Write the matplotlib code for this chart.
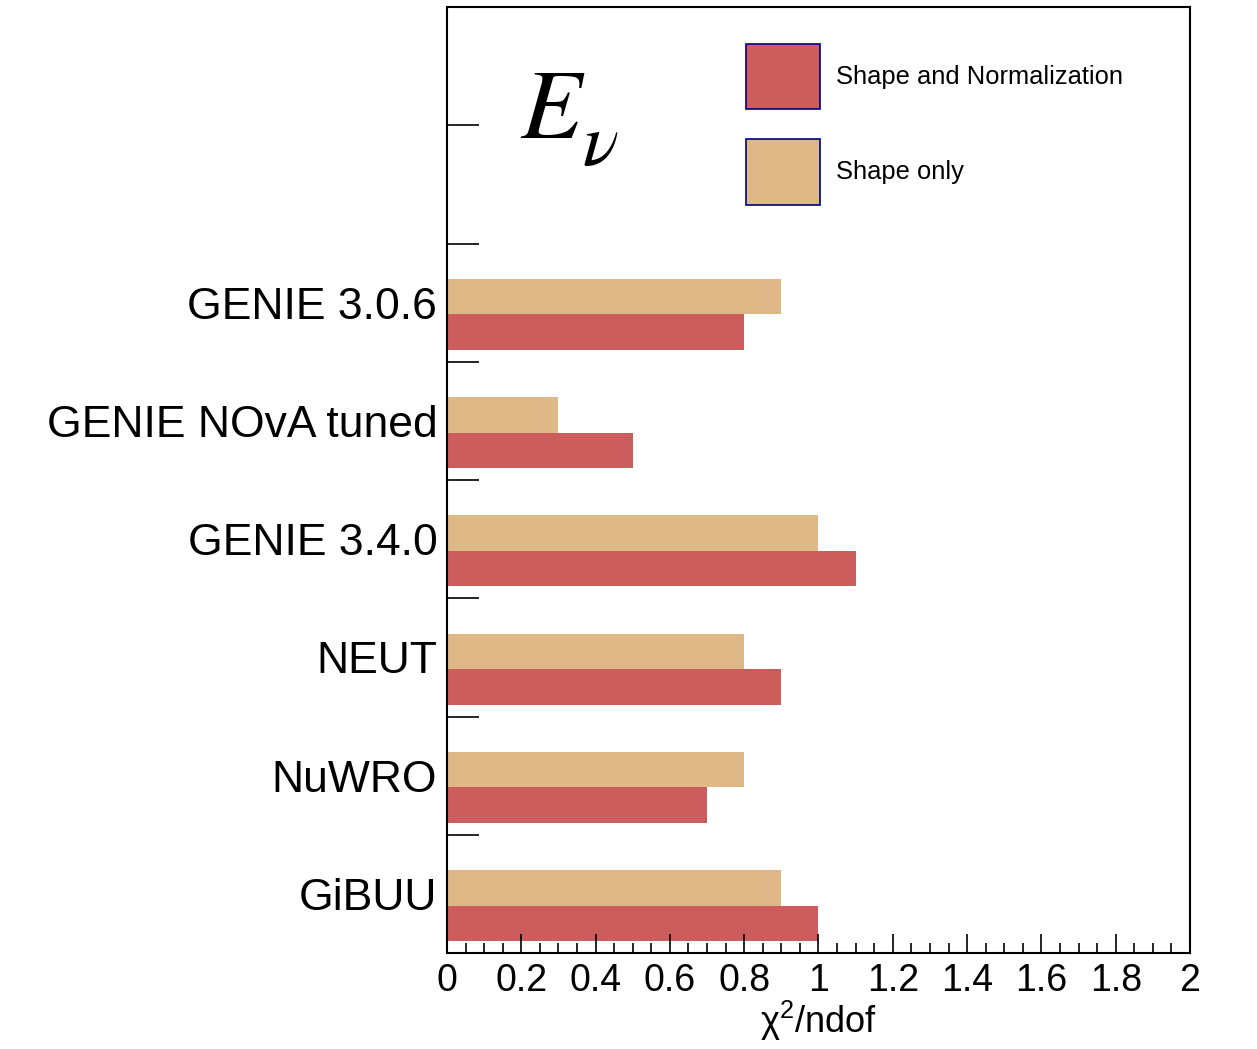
import matplotlib
matplotlib.use("Agg")
import matplotlib.pyplot as plt
from matplotlib.patches import Patch
from matplotlib.ticker import MultipleLocator, FixedLocator, NullFormatter, FixedFormatter

plt.rcParams['font.family'] = ['Liberation Sans', 'DejaVu Sans']
plt.rcParams['mathtext.fontset'] = 'custom'
plt.rcParams['mathtext.rm'] = 'Liberation Sans'
plt.rcParams['mathtext.it'] = 'Liberation Sans:italic'

# Data (bottom to top); top two slots are empty
categories = ["GiBUU", "NuWRO", "NEUT", "GENIE 3.4.0", "GENIE NOvA tuned", "GENIE 3.0.6", "", ""]
shape_norm = [1.0, 0.7, 0.9, 1.1, 0.5, 0.8, 0.0, 0.0]
shape_only = [0.9, 0.8, 0.8, 1.0, 0.3, 0.9, 0.0, 0.0]
series_labels = ["Shape and Normalization", "Shape only"]
xticks = [0, 0.2, 0.4, 0.6, 0.8, 1, 1.2, 1.4, 1.6, 1.8, 2]
xtick_labels = ["0", "0.2", "0.4", "0.6", "0.8", "1", "1.2", "1.4", "1.6", "1.8", "2"]

red = "#CD5C5C"
tan = "#DEB887"

W, H = 1257, 1049
fig = plt.figure(figsize=(W / 100, H / 100), dpi=100)
ax = fig.add_axes([447 / W, 1 - 953 / H, (1190 - 447) / W, (953 - 7) / H])

n = len(categories)
pos = list(range(n))
ax.barh([p + 0.1 for p in pos], shape_norm, height=0.3, align='edge', color=red, linewidth=0)
ax.barh([p + 0.4 for p in pos], shape_only, height=0.3, align='edge', color=tan, linewidth=0)

ax.set_xlim(0, 2)
ax.set_ylim(0, n)

for s in ax.spines.values():
    s.set_linewidth(1.5)

# x axis ticks
ax.xaxis.set_major_locator(FixedLocator(xticks))
ax.xaxis.set_major_formatter(FixedFormatter(xtick_labels))
ax.xaxis.set_minor_locator(MultipleLocator(0.05))
ax.tick_params(axis='x', which='major', direction='in', length=13.5, width=1.2, labelsize=27, pad=7)
ax.tick_params(axis='x', which='minor', direction='in', length=7, width=1.2)

# y axis: boundary ticks, labels at centers
ax.yaxis.set_major_locator(FixedLocator(list(range(1, n))))
ax.yaxis.set_major_formatter(NullFormatter())
ax.yaxis.set_minor_locator(FixedLocator([p + 0.5 for p in pos]))
ax.yaxis.set_minor_formatter(FixedFormatter(categories))
ax.tick_params(axis='y', which='major', direction='in', length=23, width=1.2)
ax.tick_params(axis='y', which='minor', length=0, labelsize=32, pad=7)

ax.set_xlabel(r"χ$^{2}$/ndof", fontsize=26, labelpad=0)

# E_nu label
fig.text(520 / W, 1 - 138 / H, r"$E$", fontsize=72,
         math_fontfamily='stix', ha='left', va='baseline')
fig.text(582 / W, 1 - 165 / H, r"$\nu$", fontsize=54,
         math_fontfamily='stix', ha='left', va='baseline')

handles = [Patch(facecolor=red, edgecolor='#000080', linewidth=1.2),
           Patch(facecolor=tan, edgecolor='#000080', linewidth=1.2)]
fig.legend(handles, series_labels, loc='upper left', bbox_to_anchor=(746 / W, 1 - 44 / H),
           bbox_transform=fig.transFigure, frameon=False, fontsize=18.4,
           handlelength=2.9, handleheight=3.56, labelspacing=1.17, handletextpad=0.62,
           borderpad=0, borderaxespad=0)

fig.savefig("out.png", dpi=100)
